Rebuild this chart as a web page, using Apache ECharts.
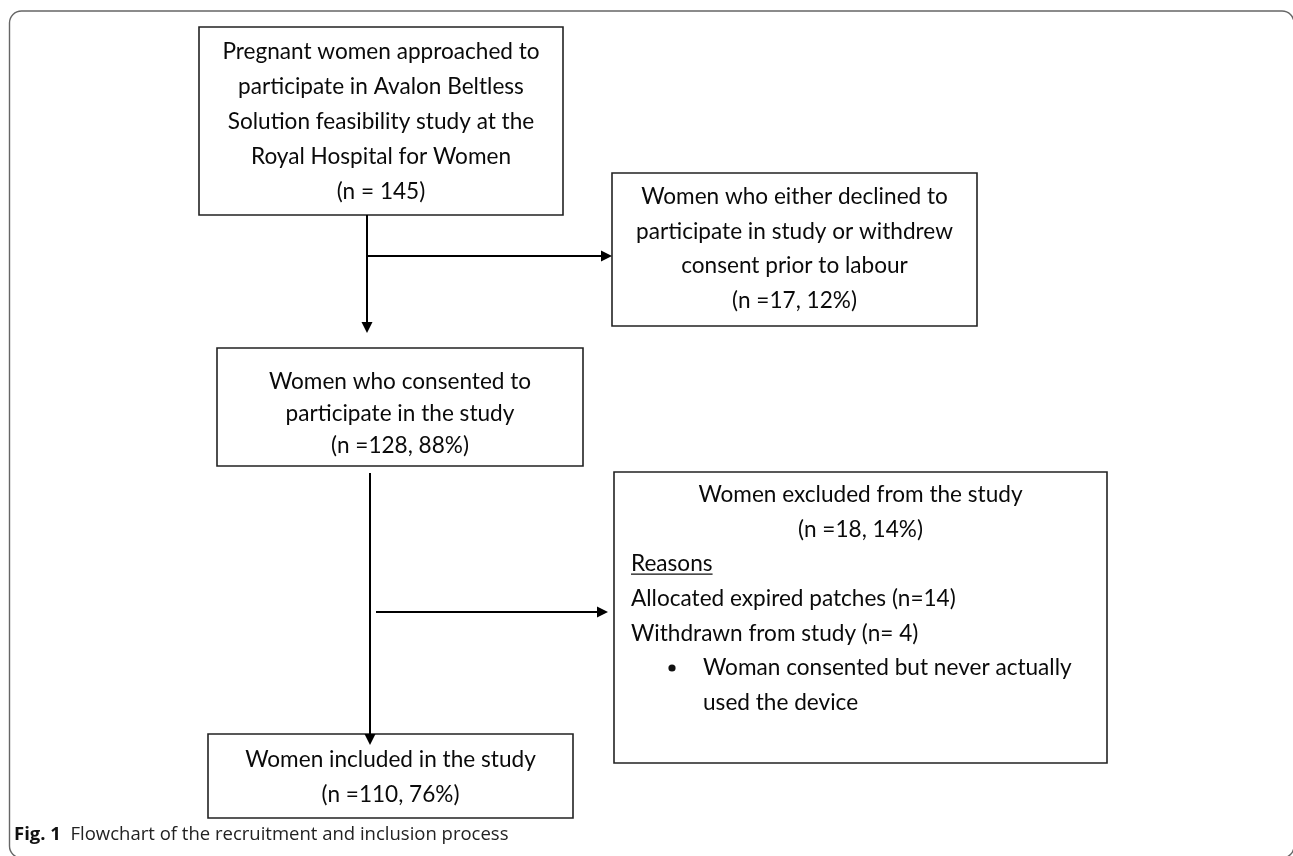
<!DOCTYPE html>
<html><head><meta charset="utf-8">
<script src="https://cdn.jsdelivr.net/npm/echarts@6/dist/echarts.min.js"></script>
<style>html,body{margin:0;padding:0;background:#fff}#c{width:1293px;height:856px}</style>
</head><body><div id="c"></div>
<script>
// ---- content (texts) ----
const box1Lines = ["Pregnant women approached to", "participate in Avalon Beltless", "Solution feasibility study at the", "Royal Hospital for Women", "(n = 145)"];
const box2Lines = ["Women who either declined to", "participate in study or withdrew", "consent prior to labour", "(n =17, 12%)"];
const box3Lines = ["Women who consented to", "participate in the study", "(n =128, 88%)"];
const box4Head = ["Women excluded from the study", "(n =18, 14%)"];
const box4Title = "Reasons";
const box4Reasons = ["Allocated expired patches (n=14)", "Withdrawn from study (n= 4)"];
const box4Bullet = ["Woman consented but never actually", "used the device"];
const box5Lines = ["Women included in the study", "(n =110, 76%)"];
const captionBold = "Fig. 1";
const captionText = "Flowchart of the recruitment and inclusion process";

// ---- layout (pixel-like units of the hidden axes) ----
const FONT = 'Lato';
const FS = 22.6;
const CAP_FS = 18.5;
const layout = {
  b1: {rect: [199, 27, 563, 215], y0: 52, lh: 35},
  b2: {rect: [612, 173, 977, 326], y0: 197, lh: 34.5},
  b3: {rect: [217, 348, 583, 466], y0: 382, lh: 32},
  b4: {rect: [614, 472, 1107, 763], y0: 495, lh: 34.6, left: 631, bulletX: 672, bulletTextX: 703},
  b5: {rect: [208, 734, 573, 818], y0: 760, lh: 35}
};
const arrows = [
  {from: [367, 215], to: [367, 333]},
  {from: [367, 256], to: [612, 256]},
  {from: [370, 473], to: [370, 745]},
  {from: [376, 612], to: [608, 612]}
];

const centered = [
  {key: 'b1', lines: box1Lines},
  {key: 'b2', lines: box2Lines},
  {key: 'b3', lines: box3Lines},
  {key: 'b5', lines: box5Lines}
];

function measure(t, font) {
  const c = document.createElement('canvas').getContext('2d');
  c.font = font; return c.measureText(t).width;
}

function boxRect(api, r) {
  const p0 = api.coord([r[0], r[1]]), p1 = api.coord([r[2], r[3]]);
  return {type: 'rect', shape: {x: p0[0], y: p0[1], width: p1[0] - p0[0], height: p1[1] - p0[1]},
    style: {fill: '#fff', stroke: '#222', lineWidth: 1.6}};
}
function txt(api, s, x, y, align) {
  const p = api.coord([x, y]);
  return {type: 'text', x: p[0], y: p[1], style: {text: s, font: FS + 'px ' + FONT, fill: '#0a0a0a', align: align, verticalAlign: 'middle'}};
}

const boxData = centered.map((b, i) => i).concat([centered.length]);

function renderBox(params, api) {
  const i = params.dataIndex;
  const children = [];
  if (i < centered.length) {
    const b = centered[i], L = layout[b.key];
    children.push(boxRect(api, L.rect));
    const cx = (L.rect[0] + L.rect[2]) / 2;
    b.lines.forEach((s, k) => children.push(txt(api, s, cx, L.y0 + k * L.lh, 'center')));
  } else {
    const L = layout.b4;
    children.push(boxRect(api, L.rect));
    const cx = (L.rect[0] + L.rect[2]) / 2;
    let k = 0;
    box4Head.forEach(s => { children.push(txt(api, s, cx, L.y0 + (k++) * L.lh, 'center')); });
    const ty = L.y0 + (k++) * L.lh;
    children.push(txt(api, box4Title, L.left, ty, 'left'));
    const w = measure(box4Title, FS + 'px ' + FONT);
    const u0 = api.coord([L.left, ty + 10]), u1 = api.coord([L.left + w, ty + 10]);
    children.push({type: 'line', shape: {x1: u0[0], y1: u0[1], x2: u1[0], y2: u1[1]}, style: {stroke: '#111', lineWidth: 1.3}});
    box4Reasons.forEach(s => { children.push(txt(api, s, L.left, L.y0 + (k++) * L.lh, 'left')); });
    const by = L.y0 + k * L.lh;
    const bp = api.coord([L.bulletX, by]);
    children.push({type: 'circle', shape: {cx: bp[0], cy: bp[1], r: 3.6}, style: {fill: '#111'}});
    box4Bullet.forEach(s => { children.push(txt(api, s, L.bulletTextX, L.y0 + (k++) * L.lh, 'left')); });
  }
  return {type: 'group', children: children};
}

function renderArrow(params, api) {
  const a = arrows[params.dataIndex];
  const p0 = api.coord(a.from), p1 = api.coord(a.to);
  const dx = p1[0] - p0[0], dy = p1[1] - p0[1];
  const len = Math.sqrt(dx * dx + dy * dy), ux = dx / len, uy = dy / len;
  const hl = 11, hw = 5.5;
  const bx = p1[0] - ux * hl, by = p1[1] - uy * hl;
  return {type: 'group', children: [
    {type: 'line', shape: {x1: p0[0], y1: p0[1], x2: bx, y2: by}, style: {stroke: '#000', lineWidth: 2}},
    {type: 'polygon', shape: {points: [[p1[0], p1[1]], [bx - uy * hw, by + ux * hw], [bx + uy * hw, by - ux * hw]]}, style: {fill: '#000'}}
  ]};
}

function renderFrame(params, api) {
  const p0 = api.coord([9.5, 11]), p1 = api.coord([1294, 858]);
  const c0 = api.coord([14, 835]);
  return {type: 'group', children: [
    {type: 'rect', shape: {x: p0[0], y: p0[1], width: p1[0] - p0[0], height: p1[1] - p0[1], r: 12},
      style: {fill: 'none', stroke: '#666', lineWidth: 1.4}},
    {type: 'text', x: c0[0], y: c0[1], style: {
      text: '{b|' + captionBold + '}  ' + captionText,
      font: CAP_FS + 'px "Open Sans"', fill: '#222', verticalAlign: 'middle',
      rich: {b: {fontWeight: 'bold', fontSize: CAP_FS, fontFamily: 'Open Sans', fill: '#111'}}
    }}
  ]};
}

const chart = echarts.init(document.getElementById('c'), null, {renderer: 'canvas'});
chart.setOption({
  animation: false,
  backgroundColor: '#fff',
  grid: {left: 0, right: 0, top: 0, bottom: 0},
  xAxis: {type: 'value', min: 0, max: 1293, show: false},
  yAxis: {type: 'value', min: 0, max: 856, inverse: true, show: false},
  series: [
    {type: 'custom', coordinateSystem: 'cartesian2d', data: [[0, 0]], renderItem: renderFrame, silent: true},
    {type: 'custom', coordinateSystem: 'cartesian2d', data: boxData.map(i => [i, 0]), renderItem: renderBox, silent: true},
    {type: 'custom', coordinateSystem: 'cartesian2d', data: arrows.map((a, i) => [i, 0]), renderItem: renderArrow, silent: true}
  ]
});
</script>
</body></html>
